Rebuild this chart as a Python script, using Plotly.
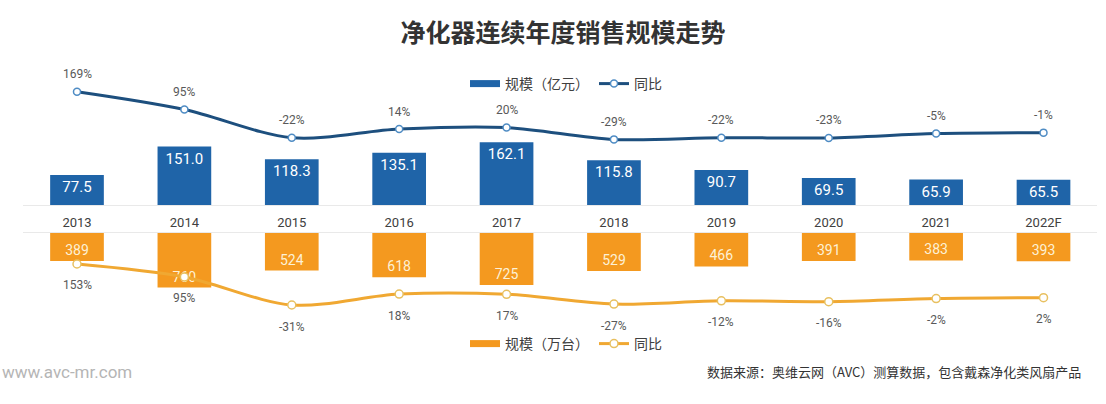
import plotly.graph_objects as go

# ---- data ----
years = ["2013", "2014", "2015", "2016", "2017", "2018", "2019", "2020", "2021", "2022F"]
sales_value = [77.5, 151.0, 118.3, 135.1, 162.1, 115.8, 90.7, 69.5, 65.9, 65.5]      # 规模（亿元）
value_yoy = [169, 95, -22, 14, 20, -29, -22, -23, -5, -1]                              # 同比 %
sales_volume = [389, 760, 524, 618, 725, 529, 466, 391, 383, 393]                     # 规模（万台）
volume_yoy = [153, 95, -31, 18, 17, -27, -12, -16, -2, 2]                              # 同比 %

title_text = "净化器连续年度销售规模走势"
value_name = "规模（亿元）"
volume_name = "规模（万台）"
yoy_name = "同比"
source_note = "数据来源：奥维云网（AVC）测算数据，包含戴森净化类风扇产品"
site_text = "www.avc-mr.com"

# ---- styles ----
W, H = 1106, 404
BLUE_BAR = "#1f64a8"
BLUE_LINE = "#1d4f7e"
ORANGE_BAR = "#f4991f"
ORANGE_LINE = "#f0a832"
CJK = "Noto Sans CJK SC"
NUM = "Roboto"


def py(p):
    """pixel row -> paper fraction"""
    return 1 - p / H


x_domain = [23.3 / W, 1097.2 / W]

fig = go.Figure()

# top panel: sales value bars + yoy line
fig.add_trace(go.Bar(
    x=years, y=sales_value, xaxis="x", yaxis="y",
    marker=dict(color=BLUE_BAR, line=dict(width=0)), width=0.5,
    texttemplate="%{y:.1f}", textposition="inside", insidetextanchor="end",
    textangle=0, textfont=dict(family=NUM, size=15, color="white"),
    name=value_name, showlegend=False, hoverinfo="x+y",
))
fig.add_trace(go.Scatter(
    x=[None], y=[None], xaxis="x", yaxis="y2", mode="lines",
    line=dict(color=BLUE_BAR, width=7), name=value_name, legend="legend",
))
fig.add_trace(go.Scatter(
    x=years, y=value_yoy, xaxis="x", yaxis="y2", mode="lines+markers",
    line=dict(color=BLUE_LINE, width=3, shape="spline", smoothing=0.9),
    marker=dict(size=7, color="white", line=dict(color="#4f8cc4", width=1.5)),
    name=yoy_name, legend="legend", cliponaxis=False,
))

# bottom panel: sales volume bars (downward) + yoy line
fig.add_trace(go.Bar(
    x=years, y=sales_volume, xaxis="x2", yaxis="y3",
    marker=dict(color=ORANGE_BAR, line=dict(width=0)), width=0.5,
    texttemplate="%{y}", textposition="inside", insidetextanchor="end",
    textangle=0, textfont=dict(family=NUM, size=14, color="#fdf1d6"),
    name=volume_name, showlegend=False, hoverinfo="x+y",
))
fig.add_trace(go.Scatter(
    x=[None], y=[None], xaxis="x2", yaxis="y4", mode="lines",
    line=dict(color=ORANGE_BAR, width=7), name=volume_name, legend="legend2",
))
fig.add_trace(go.Scatter(
    x=years, y=volume_yoy, xaxis="x2", yaxis="y4", mode="lines+markers",
    line=dict(color=ORANGE_LINE, width=3, shape="spline", smoothing=0.9),
    marker=dict(size=8, color="white", line=dict(color="#e8c060", width=1.5)),
    name=yoy_name, legend="legend2", cliponaxis=False,
))

# percentage labels (x given as category index so "2013" is not read as a number)
annotations = []
for i, v in enumerate(value_yoy):
    annotations.append(dict(
        x=i, y=v, xref="x", yref="y2", text=f"{v}%", showarrow=False,
        yanchor="middle", yshift=17.5,
        font=dict(family=NUM, size=12, color="#595959"),
    ))
for i, v in enumerate(volume_yoy):
    annotations.append(dict(
        x=i, y=v, xref="x2", yref="y4", text=f"{v}%", showarrow=False,
        yanchor="middle", yshift=-21.5,
        font=dict(family=NUM, size=12, color="#595959"),
    ))
annotations.append(dict(
    x=1083 / W, y=py(371), xref="paper", yref="paper", text=source_note,
    showarrow=False, xanchor="right", yanchor="middle",
    font=dict(family=CJK, size=13, color="#333333"),
))
annotations.append(dict(
    x=0, y=py(372), xref="paper", yref="paper", text=site_text,
    showarrow=False, xanchor="left", yanchor="middle",
    font=dict(family=NUM, size=17, color="#b5b5b5"),
))

axis_hidden = dict(visible=False, showgrid=False, zeroline=False, fixedrange=True)

fig.update_layout(
    width=W, height=H, autosize=False,
    margin=dict(l=0, r=0, t=0, b=0),
    paper_bgcolor="white", plot_bgcolor="white",
    title=dict(
        text=title_text, x=563 / W, y=py(33), xanchor="center", yanchor="middle",
        font=dict(family=CJK, size=25, color="#333333", weight="bold"),
    ),
    xaxis=dict(
        domain=x_domain, anchor="y", type="category", range=[-0.5, 9.5],
        showline=True, linecolor="#e9e9e9", linewidth=1, ticks="",
        showgrid=False, zeroline=False, ticklabelstandoff=5,
        tickfont=dict(family=NUM, size=13, color="#404040"), fixedrange=True,
    ),
    xaxis2=dict(
        domain=x_domain, anchor="y3", type="category", range=[-0.5, 9.5],
        side="top", showline=True, linecolor="#e9e9e9", linewidth=1, ticks="",
        showticklabels=False, showgrid=False, zeroline=False, fixedrange=True,
    ),
    yaxis=dict(domain=[py(205), py(60)], range=[0, 374.7], **axis_hidden),
    yaxis2=dict(overlaying="y", range=[-301.5, 300.6], **axis_hidden),
    yaxis3=dict(domain=[py(340), py(233)], range=[1492, 0], **axis_hidden),
    yaxis4=dict(overlaying="y3", range=[-188, 292], **axis_hidden),
    legend=dict(
        orientation="h", x=566 / W, y=py(84), xanchor="center", yanchor="middle",
        font=dict(family=CJK, size=14, color="#404040"), bgcolor="rgba(0,0,0,0)",
        itemwidth=30,
    ),
    legend2=dict(
        orientation="h", x=566 / W, y=py(344), xanchor="center", yanchor="middle",
        font=dict(family=CJK, size=14, color="#404040"), bgcolor="rgba(0,0,0,0)",
        itemwidth=30,
    ),
    annotations=annotations,
    showlegend=True,
    bargap=0.5,
)

fig.write_html(
    "out.html",
    config={"displayModeBar": False},
    post_script="document.body.style.margin='0';document.body.style.overflow='hidden';",
)
